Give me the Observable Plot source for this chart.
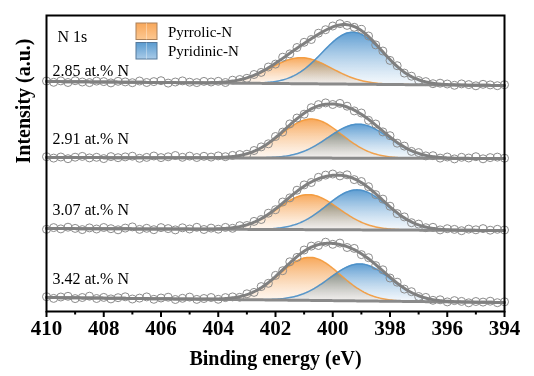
<!DOCTYPE html>
<html><head><meta charset="utf-8">
<script src="https://cdn.jsdelivr.net/npm/d3@7"></script>
<script src="https://cdn.jsdelivr.net/npm/@observablehq/plot@0.6"></script>
<style>
body{margin:0;background:#fff}
#chart{position:relative;width:534px;height:376px}
</style>
</head><body><div id="chart"></div>
<script>
// ---- data ----
const samples = ["2.85 at.% N", "2.91 at.% N", "3.07 at.% N", "3.42 at.% N"];
const offsets = [226, 153, 81, 9];          // vertical stacking offset of each spectrum
const backgroundRise = [4, 1, 2, 5];        // background level at 410 eV above the 394 eV level
const pyrrolicCenter = [401.1, 400.75, 400.85, 400.8];
const pyrrolicHeight = [26, 39, 35, 43];
const pyridinicCenter = [399.3, 399.1, 399.15, 399.05];
const pyridinicHeight = [52, 34, 40, 37];
const peakFwhm = 2.5;
const legendLabels = ["Pyrrolic-N", "Pyridinic-N"];
const xTicks = [410, 408, 406, 404, 402, 400, 398, 396, 394];
const xMinorTicks = [409, 407, 405, 403, 401, 399, 397, 395];
const energyStart = 410, energyStep = 0.25;   // measured points, 410 -> 394 eV

const counts285 = [4.5,3.2,4.6,3.0,4.8,3.5,2.9,4.4,3.9,2.6,4.2,3.6,2.8,4.5,3.0,3.9,4.8,2.4,3.5,4.6,3.3,2.9,4.1,3.5,4.2,
  3.0,5.3,6.0,7.2,11.0,13.1,18.5,21.4,28.3,31.6,38.0,43.2,46.0,52.3,55.8,59.5,
  61.8,60.1,58.2,56.1,49.5,40.6,34.5,25.1,19.8,12.4,9.3,5.0,3.9,1.8,2.3,1.5,
  0.2,1.6,0.9,-0.3,1.2,0.6,-0.2,0.8];
const counts291 = [1.8,0.4,1.5,-0.2,1.3,2.1,0.6,1.2,-0.1,1.9,0.8,1.6,2.3,0.2,1.1,2.5,0.9,1.7,3.0,1.2,2.4,1.0,2.2,1.4,2.6,
  1.8,3.1,3.9,4.3,8.0,11.6,14.7,22.0,26.4,34.6,40.5,44.3,50.8,53.9,55.6,54.0,
  55.1,52.3,47.6,45.5,38.2,34.5,26.6,22.8,15.3,12.4,7.1,5.9,2.6,2.8,0.4,1.5,
  -0.4,1.2,0.5,1.8,-0.3,0.9,1.4,0.3];
const counts307 = [1.2,2.9,1.6,3.3,2.1,0.9,2.6,1.5,3.0,1.8,0.7,2.4,3.6,1.1,2.2,0.8,2.9,1.9,0.6,2.7,1.5,3.2,1.0,2.4,1.3,
  3.1,2.2,4.8,5.0,9.1,11.0,17.3,20.8,28.5,32.6,40.3,45.6,48.0,53.2,55.4,56.5,
  54.6,55.7,50.9,49.0,43.8,35.9,31.4,24.3,16.9,13.6,7.8,6.4,2.8,3.2,0.6,1.8,
  1.1,-0.2,1.4,0.7,1.9,0.3,1.2,0.5];
const counts342 = [5.8,4.1,5.5,6.2,3.9,5.0,6.3,4.0,5.1,3.6,4.8,5.7,3.5,4.4,5.6,3.2,4.5,5.3,3.0,4.2,5.4,3.1,4.0,5.0,3.2,
  4.9,5.6,5.2,8.7,10.1,15.9,19.2,27.1,31.8,40.7,45.1,52.5,56.4,57.0,60.3,58.2,
  59.4,55.0,54.1,47.9,44.8,36.9,32.7,24.5,20.3,13.4,10.8,6.0,5.1,2.2,2.7,0.6,
  1.9,1.1,-0.3,1.0,0.4,1.3,-0.2,0.7];
const counts = [counts285, counts291, counts307, counts342];

// ---- derived tables ----
const gauss = (E, c, h) => h * Math.exp(-4 * Math.LN2 * ((E - c) / peakFwhm) ** 2);
const background = (i, E) => backgroundRise[i] * (E - 394) / 16;
const fine = d3.range(394, 410.0001, 0.05);
const curves = [];
samples.forEach((s, i) => fine.forEach(E => {
  const base = offsets[i] + background(i, E);
  const pyr = gauss(E, pyrrolicCenter[i], pyrrolicHeight[i]);
  const pyd = gauss(E, pyridinicCenter[i], pyridinicHeight[i]);
  curves.push({s, E, base, pyr, pyd, env: base + pyr + pyd});
}));
const pyrCurves = curves.filter(d => d.pyr > 0.05);
const pydCurves = curves.filter(d => d.pyd > 0.05);
const points = samples.flatMap((s, i) => counts[i].map((v, j) => ({s, E: energyStart - j * energyStep, y: offsets[i] + v})));

const serif = "'Liberation Serif', 'Times New Roman', serif";

const chart = Plot.plot({
  width: 534, height: 376,
  marginLeft: 46, marginRight: 30, marginTop: 15, marginBottom: 65,
  style: {fontFamily: serif, fontSize: "15px", color: "black", background: "white"},
  x: {domain: [410, 394]},
  y: {domain: [0, 296], axis: null},
  marks: [
    Plot.areaY(pyrCurves, {x: "E", y1: "base", y2: d => d.base + d.pyr, z: "s", fill: "url(#gradPyrrolic)", mixBlendMode: "multiply"}),
    Plot.areaY(pydCurves, {x: "E", y1: "base", y2: d => d.base + d.pyd, z: "s", fill: "url(#gradPyridinic)", mixBlendMode: "multiply"}),
    Plot.lineY(pyrCurves, {x: "E", y: d => d.base + d.pyr, z: "s", stroke: "#f39a3c", strokeWidth: 1.5, strokeOpacity: 0.9}),
    Plot.lineY(pydCurves, {x: "E", y: d => d.base + d.pyd, z: "s", stroke: "#4a8fc8", strokeWidth: 1.5, strokeOpacity: 0.9}),
    Plot.lineY(curves, {x: "E", y: "base", z: "s", stroke: "#8a8a8a", strokeWidth: 3}),
    Plot.dot(points, {x: "E", y: "y", r: 4, stroke: "#8c8c8c", strokeWidth: 1, fill: "none"}),
    Plot.lineY(curves, {x: "E", y: "env", z: "s", stroke: "#808080", strokeWidth: 3}),
    Plot.text(samples, {x: () => 410, y: (d, i) => offsets[i] + backgroundRise[i] + (i === 0 ? 11 : 19), text: d => d, textAnchor: "start", dx: 6, fontSize: 16}),
    Plot.text(["N 1s"], {frameAnchor: "top-left", dx: 11, dy: 15, textAnchor: "start", fontSize: 16}),
    Plot.frame({stroke: "black", strokeWidth: 2}),
    Plot.axisX(xTicks, {tickSize: 6, tickPadding: 3, strokeWidth: 2, fontSize: 21, fontWeight: "bold", label: null}),
    Plot.axisX(xMinorTicks, {tickSize: 3.5, strokeWidth: 2, tickFormat: () => "", label: null}),
    Plot.text(["Binding energy (eV)"], {frameAnchor: "bottom", dy: 53, fontSize: 20, fontWeight: "bold"}),
    Plot.text(["Intensity (a.u.)"], {frameAnchor: "left", dx: -23, rotate: -90, fontSize: 20, fontWeight: "bold"})
  ]
});
document.getElementById("chart").appendChild(chart);

// gradients + legend
const svg = d3.select(chart);
const defs = svg.insert("defs", ":first-child");
function grad(id, top, bottom, o1, o2) {
  const g = defs.append("linearGradient").attr("id", id).attr("x1", 0).attr("y1", 0).attr("x2", 0).attr("y2", 1);
  g.append("stop").attr("offset", "0%").attr("stop-color", top).attr("stop-opacity", o1);
  g.append("stop").attr("offset", "100%").attr("stop-color", bottom).attr("stop-opacity", o2);
}
grad("gradPyrrolic", "#f7a24f", "#fdf3ea", 0.95, 0.6);
grad("gradPyridinic", "#5497cf", "#eef5fb", 0.95, 0.6);
grad("swPyrrolic", "#f8a75a", "#fcc892", 1, 1);
grad("swPyridinic", "#5a9bd0", "#a9cbe8", 1, 1);

const legendColors = [["url(#swPyrrolic)", "#a9805a"], ["url(#swPyridinic)", "#55789a"]];
const lg = svg.append("g").attr("font-family", serif).attr("font-size", 15).attr("text-anchor", "start");
legendLabels.forEach((lab, i) => {
  const y0 = 23 + i * 19.5;
  lg.append("rect").attr("x", 136).attr("y", y0).attr("width", 21).attr("height", 16.5)
    .attr("fill", legendColors[i][0]).attr("stroke", legendColors[i][1]).attr("stroke-width", 1);
  lg.append("line").attr("x1", 146.5).attr("x2", 146.5).attr("y1", y0).attr("y2", y0 + 16.5)
    .attr("stroke", "white").attr("stroke-opacity", 0.35);
  lg.append("text").attr("x", 168).attr("y", y0 + 8.5).attr("dy", "0.35em").attr("fill", "black").text(lab);
});
</script>
</body></html>
